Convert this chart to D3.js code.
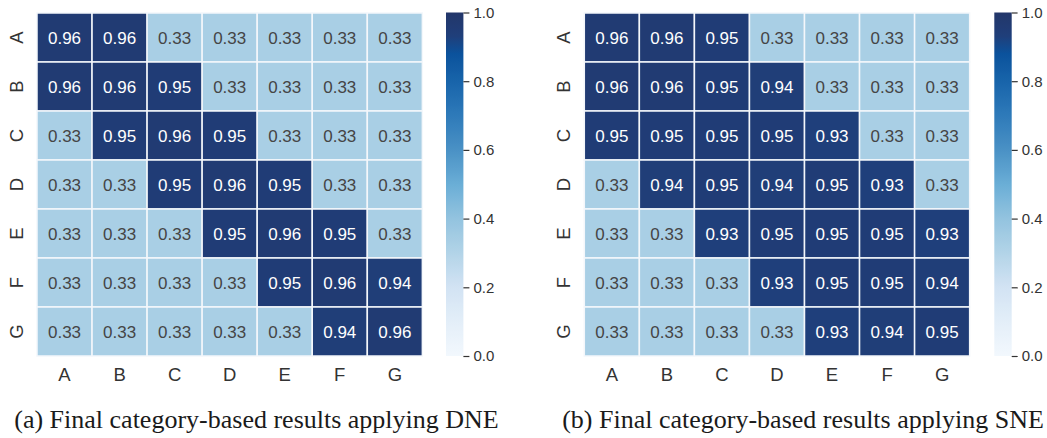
<!DOCTYPE html>
<html>
<head>
<meta charset="utf-8">
<script src="https://cdn.jsdelivr.net/npm/d3@7"></script>
<style>
  html, body { margin: 0; padding: 0; background: #fff; }
  svg { display: block; }
</style>
</head>
<body>
<svg id="chart" width="1047" height="438"></svg>
<script>
// Category labels shared by both matrices
const categories = ["A", "B", "C", "D", "E", "F", "G"];

// Category-based results, DNE (rows A..G, columns A..G)
const dneValues = [
  [0.96, 0.96, 0.33, 0.33, 0.33, 0.33, 0.33],
  [0.96, 0.96, 0.95, 0.33, 0.33, 0.33, 0.33],
  [0.33, 0.95, 0.96, 0.95, 0.33, 0.33, 0.33],
  [0.33, 0.33, 0.95, 0.96, 0.95, 0.33, 0.33],
  [0.33, 0.33, 0.33, 0.95, 0.96, 0.95, 0.33],
  [0.33, 0.33, 0.33, 0.33, 0.95, 0.96, 0.94],
  [0.33, 0.33, 0.33, 0.33, 0.33, 0.94, 0.96]
];

// Category-based results, SNE
const sneValues = [
  [0.96, 0.96, 0.95, 0.33, 0.33, 0.33, 0.33],
  [0.96, 0.96, 0.95, 0.94, 0.33, 0.33, 0.33],
  [0.95, 0.95, 0.95, 0.95, 0.93, 0.33, 0.33],
  [0.33, 0.94, 0.95, 0.94, 0.95, 0.93, 0.33],
  [0.33, 0.33, 0.93, 0.95, 0.95, 0.95, 0.93],
  [0.33, 0.33, 0.33, 0.93, 0.95, 0.95, 0.94],
  [0.33, 0.33, 0.33, 0.33, 0.93, 0.94, 0.95]
];

// Colour bar ticks
const colorbarTicks = [0.0, 0.2, 0.4, 0.6, 0.8, 1.0];

const captions = [
  "(a) Final category-based results applying DNE",
  "(b) Final category-based results applying SNE"
];

// Blues-style colour ramp
const color = d3.scaleLinear()
  .domain([0, 0.1, 0.2, 0.33, 0.4, 0.5, 0.6, 0.7, 0.8, 0.88, 0.93, 1.0])
  .range(["#f2f8fd", "#e3eef8", "#d2e3f3", "#a9cfe5", "#93c3df", "#6aaed6",
          "#4a91c5", "#2e7ab9", "#1864aa", "#0b529c", "#1f3f7b", "#233669"])
  .interpolate(d3.interpolateRgb)
  .clamp(true);

const svg = d3.select("#chart");
const defs = svg.append("defs");

const grad = defs.append("linearGradient")
  .attr("id", "cbar-grad")
  .attr("x1", 0).attr("y1", 1).attr("x2", 0).attr("y2", 0);
d3.range(0, 1.0001, 0.01).forEach(t => {
  grad.append("stop").attr("offset", t).attr("stop-color", color(t));
});

const panels = [
  { values: dneValues, left: 37, caption: captions[0], capX: 256.5, cbarX: 446 },
  { values: sneValues, left: 584.3, caption: captions[1], capX: 803, cbarX: 994.3 }
];

const gridTop = 13, gridBottom = 356, cellW = 55.05;
const sans = "'Liberation Sans', Arial, Helvetica, sans-serif";

panels.forEach(p => {
  const g = svg.append("g");
  const x = d3.scaleBand().domain(categories).range([p.left, p.left + cellW * categories.length]);
  const y = d3.scaleBand().domain(categories).range([gridTop, gridBottom]);

  const cells = categories.flatMap((r, i) => categories.map((c, j) => ({ r, c, v: p.values[i][j] })));

  g.selectAll("rect.cell").data(cells).join("rect")
    .attr("class", "cell")
    .attr("x", d => x(d.c))
    .attr("y", d => y(d.r))
    .attr("width", x.bandwidth())
    .attr("height", y.bandwidth())
    .attr("fill", d => color(d.v))
    .attr("stroke", "#f4f7fb")
    .attr("stroke-width", 1.5);

  g.selectAll("text.val").data(cells).join("text")
    .attr("class", "val")
    .attr("x", d => x(d.c) + x.bandwidth() / 2)
    .attr("y", d => y(d.r) + y.bandwidth() / 2)
    .attr("dy", "0.36em")
    .attr("text-anchor", "middle")
    .attr("font-family", sans)
    .attr("font-size", 17)
    .attr("fill", d => d.v > 0.6 ? "#ffffff" : "#454545")
    .text(d => d.v.toFixed(2));

  // Column labels
  const xAxis = g.append("g")
    .attr("transform", `translate(0,${gridBottom})`)
    .call(d3.axisBottom(x).tickSize(0).tickPadding(12));
  xAxis.select(".domain").remove();
  xAxis.selectAll("text")
    .attr("font-family", sans).attr("font-size", 18.5).attr("fill", "#333");

  // Row labels (rotated)
  const yAxis = g.append("g")
    .attr("transform", `translate(${p.left},0)`)
    .call(d3.axisLeft(y).tickSize(0));
  yAxis.select(".domain").remove();
  yAxis.selectAll("text")
    .attr("transform", "rotate(-90)")
    .attr("x", 0)
    .attr("y", -21)
    .attr("dy", "0.36em")
    .attr("text-anchor", "middle")
    .attr("font-family", sans).attr("font-size", 18.5).attr("fill", "#333");

  // Colour bar
  const cb = d3.scaleLinear().domain([0, 1]).range([gridBottom, 12.5]);
  const cbW = 17.4;
  g.append("rect")
    .attr("x", p.cbarX).attr("y", cb(1))
    .attr("width", cbW).attr("height", cb(0) - cb(1))
    .attr("fill", "url(#cbar-grad)");
  const cAxis = g.append("g")
    .attr("transform", `translate(${p.cbarX + cbW},0)`)
    .call(d3.axisRight(cb).tickValues(colorbarTicks).tickFormat(d3.format(".1f")).tickSize(6).tickPadding(4));
  cAxis.select(".domain").remove();
  cAxis.selectAll("line").attr("stroke", "#333").attr("stroke-width", 1.2);
  cAxis.selectAll("text")
    .attr("font-family", sans).attr("font-size", 15).attr("fill", "#333");

  // Caption
  svg.append("text")
    .attr("x", p.capX).attr("y", 428)
    .attr("text-anchor", "middle")
    .attr("font-family", "'Liberation Serif', 'Times New Roman', serif")
    .attr("font-size", 26)
    .attr("fill", "#1a1a1a")
    .text(p.caption);
});
</script>
</body>
</html>
